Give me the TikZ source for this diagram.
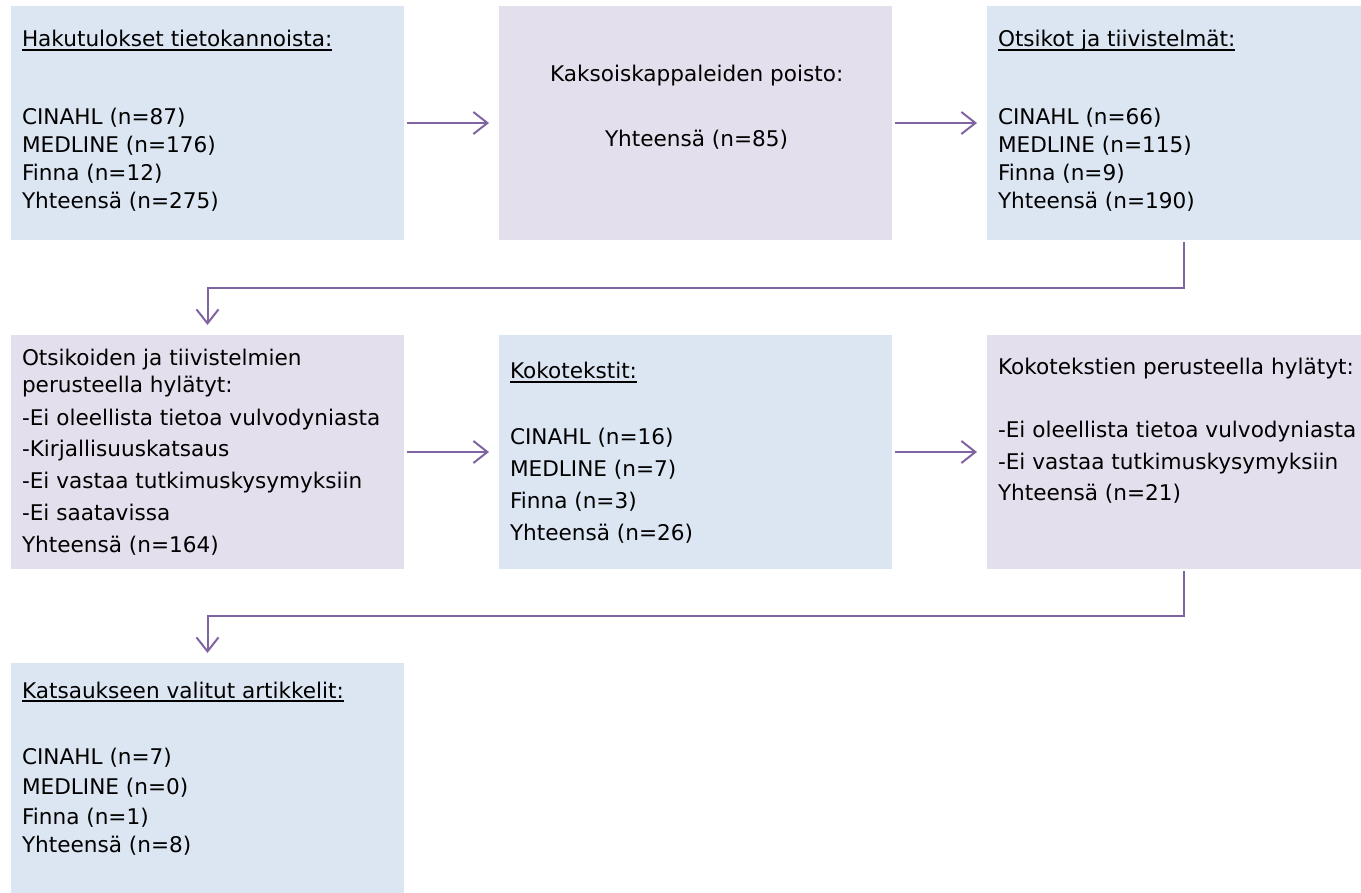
\documentclass[tikz,border=0pt]{standalone}
\usepackage{fontspec}
\setmainfont{DejaVu Sans}
\usetikzlibrary{arrows.meta}
\definecolor{boxblue}{HTML}{DCE6F2}
\definecolor{boxlav}{HTML}{E4DFEC}
\definecolor{arrowpurple}{HTML}{8064A2}
\begin{document}
\begin{tikzpicture}[x=1pt,y=-1pt,
  box/.style={inner sep=0pt, outer sep=0pt, draw=none, anchor=north west,
    minimum width=393pt, minimum height=234pt},
  bluebox/.style={box, fill=boxblue},
  lavbox/.style={box, fill=boxlav},
  txt/.style={anchor=base west, inner sep=0pt, outer sep=0pt, font=\fontsize{21.6}{26}\selectfont},
  uline/.style={draw=black, line width=1.3pt},
  conn/.style={draw=arrowpurple, line width=2pt,
    -{Straight Barb[length=14pt, width=22pt, line width=2pt]}}
]
\useasboundingbox (0,0) rectangle (1361,893);
\clip (0,0) rectangle (1361,893);

% boxes
\node[bluebox] (A) at (11,6) {};
\node[lavbox]  (B) at (499,6) {};
\node[bluebox] (C) at (987,6) {};
\node[lavbox]  (D) at (11,335) {};
\node[bluebox] (E) at (499,335) {};
\node[lavbox]  (F) at (987,335) {};
\node[bluebox, minimum height=236pt] (G) at (11,663) {};

% box A
\node[txt] (a1) at (22,47)  {Hakutulokset tietokannoista:};
\node[txt] (a2) at (22,125) {CINAHL (n=87)};
\node[txt] (a3) at (22,153) {MEDLINE (n=176)};
\node[txt] (a4) at (22,181) {Finna (n=12)};
\node[txt] (a5) at (22,209) {Yhteensä (n=275)};

% box B
\node[txt] (b1) at (550,82)  {Kaksoiskappaleiden poisto:};
\node[txt] (b2) at (605,147) {Yhteensä (n=85)};

% box C
\node[txt] (c1) at (998,47)  {Otsikot ja tiivistelmät:};
\node[txt] (c2) at (998,125) {CINAHL (n=66)};
\node[txt] (c3) at (998,153) {MEDLINE (n=115)};
\node[txt] (c4) at (998,181) {Finna (n=9)};
\node[txt] (c5) at (998,209) {Yhteensä (n=190)};

% box D
\node[txt] (d1) at (22,366) {Otsikoiden ja tiivistelmien};
\node[txt] (d2) at (22,392) {perusteella hylätyt:};
\node[txt] (d3) at (22,425) {-Ei oleellista tietoa vulvodyniasta};
\node[txt] (d4) at (22,456) {-Kirjallisuuskatsaus};
\node[txt] (d5) at (22,488) {-Ei vastaa tutkimuskysymyksiin};
\node[txt] (d6) at (22,520) {-Ei saatavissa};
\node[txt] (d7) at (22,552) {Yhteensä (n=164)};

% box E
\node[txt] (e1) at (510,379) {Kokotekstit:};
\node[txt] (e2) at (510,444) {CINAHL (n=16)};
\node[txt] (e3) at (510,476) {MEDLINE (n=7)};
\node[txt] (e4) at (510,508) {Finna (n=3)};
\node[txt] (e5) at (510,540) {Yhteensä (n=26)};

% box F
\node[txt] (f1) at (998,375) {Kokotekstien perusteella hylätyt:};
\node[txt] (f2) at (998,437) {-Ei oleellista tietoa vulvodyniasta};
\node[txt] (f3) at (998,469) {-Ei vastaa tutkimuskysymyksiin};
\node[txt] (f4) at (998,500) {Yhteensä (n=21)};

% box G
\node[txt] (g1) at (22,698) {Katsaukseen valitut artikkelit:};
\node[txt] (g2) at (22,764) {CINAHL (n=7)};
\node[txt] (g3) at (22,794) {MEDLINE (n=0)};
\node[txt] (g4) at (22,824) {Finna (n=1)};
\node[txt] (g5) at (22,852) {Yhteensä (n=8)};

% underlines
\foreach \n in {a1,c1,e1,g1}
  \draw[uline] ([yshift=-3pt]\n.base west) -- ([yshift=-3pt]\n.base east);

% connectors
\draw[conn] ([xshift=3pt]A.east) -- ([xshift=-10pt]B.west);
\draw[conn] ([xshift=3pt]B.east) -- ([xshift=-10pt]C.west);
\draw[conn] ([yshift=-2pt]C.south) -- ++(0,46) -| ([yshift=10pt]D.north);
\draw[conn] ([xshift=3pt]D.east) -- ([xshift=-10pt]E.west);
\draw[conn] ([xshift=3pt]E.east) -- ([xshift=-10pt]F.west);
\draw[conn] ([yshift=-2pt]F.south) -- ++(0,45) -| ([yshift=10pt]G.north);
\end{tikzpicture}
\end{document}
